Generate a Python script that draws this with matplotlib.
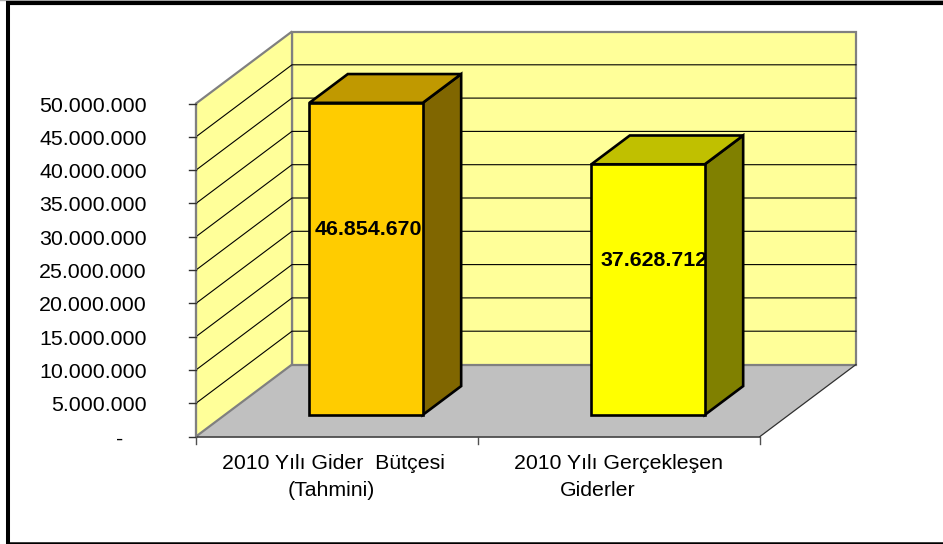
import matplotlib
matplotlib.use('Agg')
import matplotlib.pyplot as plt
from matplotlib.patches import Polygon, Rectangle

plt.rcParams['font.family'] = ['Liberation Sans', 'DejaVu Sans']

categories = [['2010 Yılı Gider  Bütçesi', '(Tahmini)'], ['2010 Yılı Gerçekleşen', 'Giderler']]
values = [46854670, 37628712]
value_labels = ['46.854.670', '37.628.712']
bar_colors = ['#FFCC00', '#FFFF00']
top_colors = ['#C09900', '#C0C000']
side_colors = ['#806600', '#808000']
ticks = list(range(0, 50000001, 5000000))
tick_labels = ['-', '5.000.000', '10.000.000', '15.000.000', '20.000.000', '25.000.000',
               '30.000.000', '35.000.000', '40.000.000', '45.000.000', '50.000.000']

W, H = 943, 544
# pixel layout of the 3d box
x0, y0 = 196.0, 436.5
cat_px = 282.0
val_px = 333.0 / 50000000
dep_x, dep_y = 96.0, 72.0
dx = dep_x / cat_px
dy = dep_y / val_px
bar_off, bar_w = 0.30, 0.402
d0, d1 = 0.30, 0.70


def proj(c, v, d=0.0):
    return (c + d * dx, v + d * dy)


fig = plt.figure(figsize=(W / 100, H / 100), dpi=100)
ax = fig.add_axes([0, 0, 1, 1])
ax.set_xlim(-x0 / cat_px, (W - x0) / cat_px)
ax.set_ylim((y0 - H) / val_px, y0 / val_px)
ax.axis('off')

# picture frame
ax.add_patch(Rectangle((0, 0), 1, 1, transform=ax.transAxes, fc='white', ec='none', zorder=0))
ax.plot([0, 1], [0.9995, 0.9995], transform=ax.transAxes, color='#b0b0b0', lw=1, zorder=1)
ax.plot([8 / W, 8 / W], [0, 1 - 1 / H], transform=ax.transAxes, color='black', lw=2.9, zorder=1,
        solid_capstyle='butt')
ax.plot([6 / W, 1], [1 - 3.2 / H, 1 - 3.2 / H], transform=ax.transAxes, color='black', lw=3, zorder=1,
        solid_capstyle='butt')
ax.plot([6 / W, 1], [1.2 / H, 1.2 / H], transform=ax.transAxes, color='black', lw=1.8, zorder=1,
        solid_capstyle='butt')

n = len(categories)
vmax = ticks[-1]
gray = '#808080'

# floor, back wall, side wall
ax.add_patch(Polygon([proj(0, 0), proj(n, 0), proj(n, 0, 1), proj(0, 0, 1)], fc='#C0C0C0', ec='none', zorder=2))
ax.add_patch(Polygon([proj(0, 0, 1), proj(n, 0, 1), proj(n, vmax, 1), proj(0, vmax, 1)],
                     fc='#FFFF99', ec=gray, lw=1.6, zorder=3))
ax.add_patch(Polygon([proj(0, 0), proj(0, 0, 1), proj(0, vmax, 1), proj(0, vmax)],
                     fc='#FFFF99', ec=gray, lw=1.6, zorder=3))

# gridlines along side wall and back wall
for t in ticks[1:-1]:
    ax.plot(*zip(proj(0, t), proj(0, t, 1), proj(n, t, 1)), color='black', lw=0.8, zorder=4)
ax.plot(*zip(proj(n, 0), proj(n, 0, 1)), color='#303030', lw=0.9, zorder=4)

# axis lines and ticks
ax.plot(*zip(proj(0, 0), proj(n, 0)), color='#303030', lw=1.1, zorder=5)
ax.plot(*zip(proj(0, 0), proj(0, vmax)), color=gray, lw=1.5, zorder=5)
tick_dx = 7.0 / cat_px
for t, lab in zip(ticks, tick_labels):
    ax.plot([-tick_dx, 0], [t, t], color='#303030', lw=1, zorder=5)
    ax.text(-49.0 / cat_px, t - 2.5 / val_px, lab, ha='right', va='center', fontsize=15.4,
            color='black', zorder=6)
ax.texts[0].set_position((-73.0 / cat_px, -2.5 / val_px))
for c in range(n + 1):
    ax.plot([c, c], [0, -7.0 / val_px], color='#505050', lw=1, zorder=5)

# bars
label_dx = [-1.0, 3.0]
for i, v in enumerate(values):
    l = i + bar_off
    r = l + bar_w
    ax.add_patch(Polygon([proj(r, 0, d0), proj(r, 0, d1), proj(r, v, d1), proj(r, v, d0)],
                         fc=side_colors[i], ec='black', lw=1.9, joinstyle='miter', zorder=7))
    ax.add_patch(Polygon([proj(l, v, d0), proj(r, v, d0), proj(r, v, d1), proj(l, v, d1)],
                         fc=top_colors[i], ec='black', lw=1.9, joinstyle='miter', zorder=7))
    ax.add_patch(Polygon([proj(l, 0, d0), proj(r, 0, d0), proj(r, v, d0), proj(l, v, d0)],
                         fc=bar_colors[i], ec='black', lw=1.9, joinstyle='miter', zorder=8))
    cx, cy = proj(l + bar_w / 2, v / 2, d0)
    ax.text(cx + 0.012 + label_dx[i] / cat_px, cy + 29.0 / val_px, value_labels[i],
            ha='center', va='center', fontsize=15.4, fontweight='bold', color='black', zorder=9)

# category labels
label_x = [[333.0, 331.0], [619.0, 598.0]]
for i, lines in enumerate(categories):
    for j, line in enumerate(lines):
        ax.text((label_x[i][j] - x0) / cat_px, -(463.5 + 27.0 * j - y0) / val_px, line, ha='center',
                va='center', fontsize=15.3, color='black', zorder=6)

fig.savefig('out.png', dpi=100)
